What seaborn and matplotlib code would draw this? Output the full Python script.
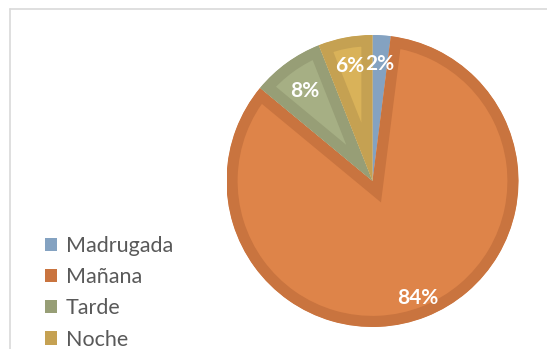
import matplotlib
matplotlib.use("Agg")
import matplotlib.pyplot as plt
import seaborn as sns
import numpy as np
from matplotlib.patches import Patch
from matplotlib.lines import Line2D

categories = ["Madrugada", "Mañana", "Tarde", "Noche"]
values = [2, 84, 8, 6]
labels = ["2%", "84%", "8%", "6%"]
face_colors = ["#7FA0C2", "#DE8449", "#A6AF84", "#D9B259"]
edge_colors = ["#84A2C1", "#C9743F", "#979E76", "#C5A152"]

sns.set_theme(style="white")
plt.rcParams["font.family"] = ["Lato", "DejaVu Sans"]

W, H = 547, 349
fig = plt.figure(figsize=(W / 100, H / 100), dpi=100)
cx, cy, r = 372.5, 181, 146
ax = fig.add_axes([(cx - r) / W, (H - cy - r) / H, 2 * r / W, 2 * r / H])

wedges, texts = ax.pie(values, colors=face_colors, startangle=90, counterclock=False,
                       radius=1, labels=None,
                       wedgeprops=dict(linewidth=16, joinstyle="miter"))
ax.set_xlim(-1, 1)
ax.set_ylim(-1, 1)
ax.set_aspect("equal")
ax.axis("off")
for w, ec in zip(wedges, edge_colors):
    w.set_edgecolor(ec)
    w.set_clip_on(True)
    w.set_clip_path(w)

# label positions (radius fraction)
lab_r = [0.82, 0.84, 0.79, 0.82]
start = 90.0
total = sum(values)
for v, lab, rr in zip(values, labels, lab_r):
    ang = start - 360.0 * v / total / 2
    start -= 360.0 * v / total
    x = rr * np.cos(np.radians(ang))
    y = rr * np.sin(np.radians(ang)) - 0.02
    ax.text(x, y, lab, ha="center", va="center", color="white",
            fontsize=15, fontweight="bold")

handles = [Patch(facecolor=c, edgecolor="none") for c in edge_colors]
fig.legend(handles, categories, loc="upper left", bbox_to_anchor=(45 / W, 1 - 236 / H),
           frameon=False, fontsize=15.5, handlelength=0.56, handleheight=0.56,
           handletextpad=0.42, labelspacing=0.52, labelcolor="#595959",
           borderaxespad=0, borderpad=0)

# chart-area border
fig.add_artist(Line2D([9.5 / W, 1], [1 - 8.5 / H, 1 - 8.5 / H], color="#D9D9D9", lw=1.2,
                      transform=fig.transFigure))
fig.add_artist(Line2D([9.5 / W, 9.5 / W], [0, 1 - 8.5 / H], color="#D9D9D9", lw=1.2,
                      transform=fig.transFigure))

fig.savefig("out.png", dpi=100)
